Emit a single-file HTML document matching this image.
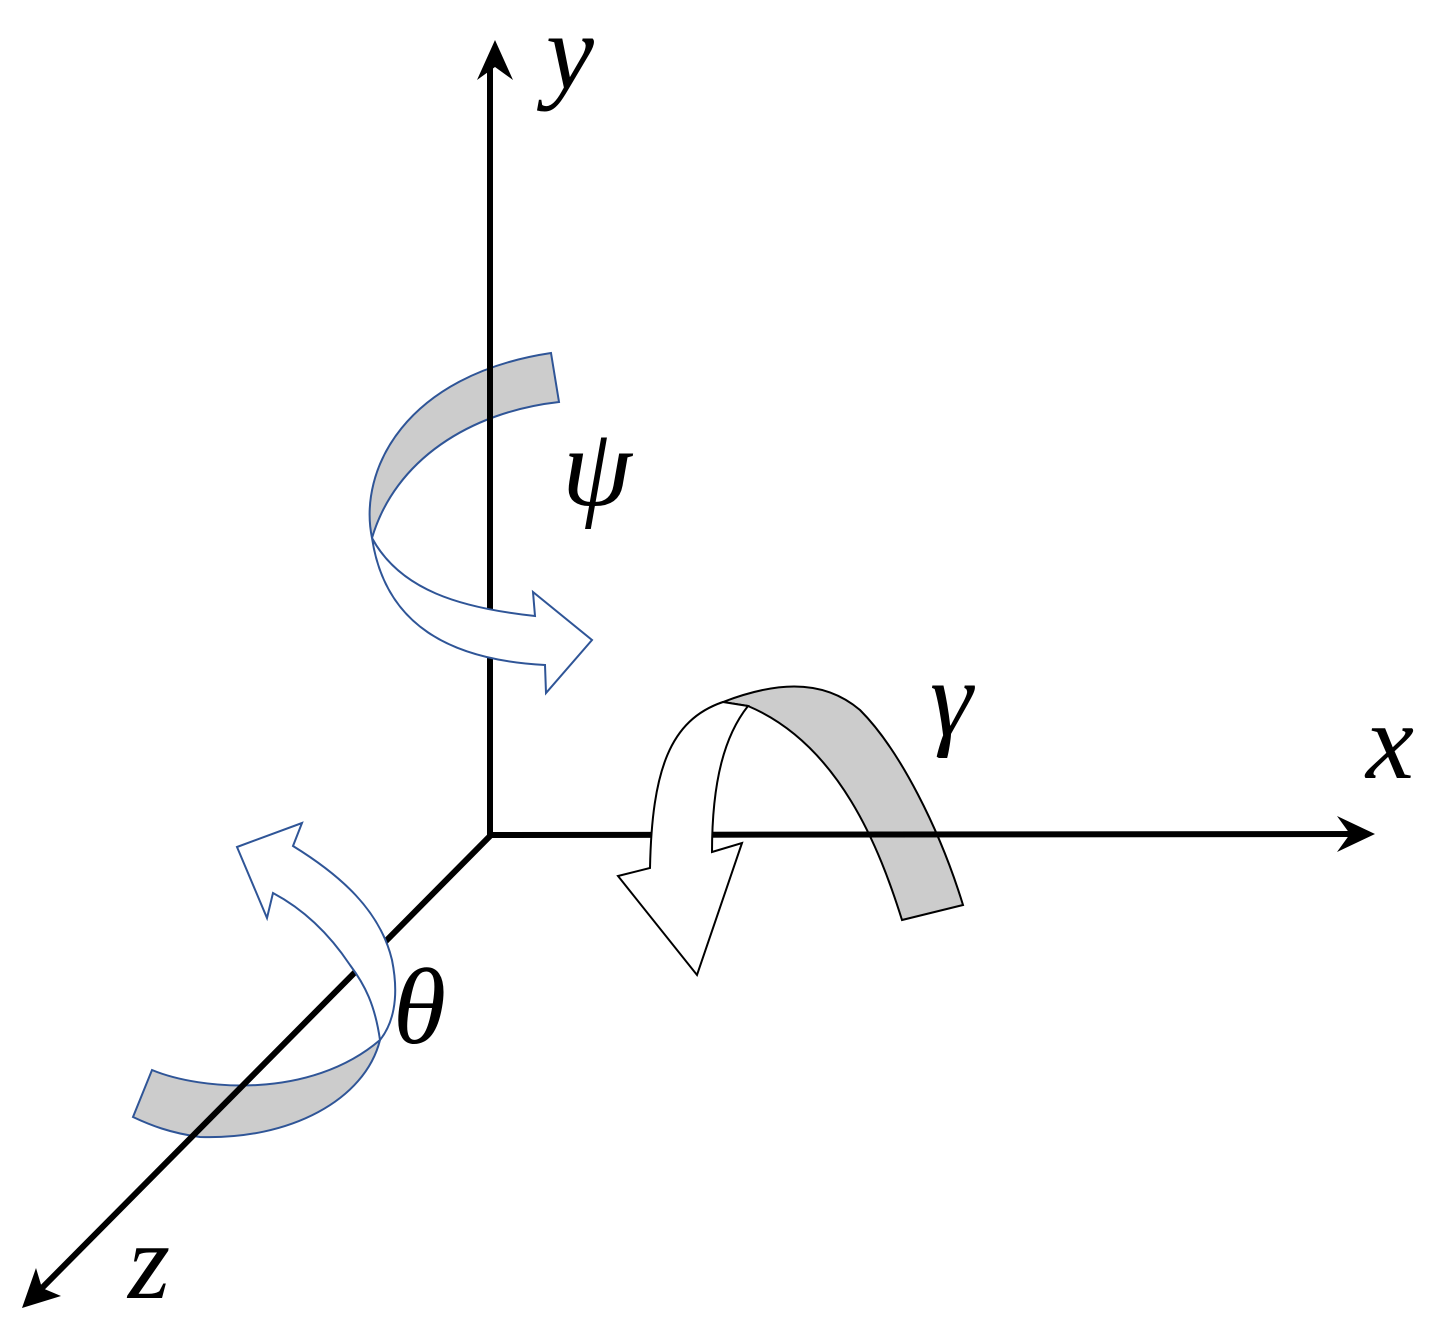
<!DOCTYPE html>
<html><head><meta charset="utf-8"><style>
html,body{margin:0;padding:0;background:#fff;}
svg{display:block;}
text{font-family:"Liberation Serif","DejaVu Serif",serif;font-style:italic;fill:#000;}
</style></head><body>
<svg width="1456" height="1335" viewBox="0 0 1456 1335" xmlns="http://www.w3.org/2000/svg">
<path d="M551,353 L559,402 C470,412 395,460 372,538 C358,470 405,375 551,353 Z" fill="#cccccc" stroke="#2f5597" stroke-width="2"/>
<path d="M723,702 C770,684 820,676 860,710 C900,750 940,830 963,905 L902,920 C880,850 840,745 748,706 Z" fill="#cccccc" stroke="#000" stroke-width="2"/>
<path d="M152,1070 C200,1090 310,1100 380,1040 C365,1100 290,1140 200,1137 C170,1133 150,1125 133,1117 Z" fill="#cccccc" stroke="#2f5597" stroke-width="2"/>
<g stroke="#000" stroke-width="6" fill="none">
<line x1="490" y1="838" x2="490" y2="62"/>
<line x1="487" y1="835" x2="1355" y2="834"/>
<line x1="492" y1="834" x2="40" y2="1290"/>
</g>
<polygon points="495,40 513,80 495,67 477,80" fill="#000"/>
<polygon points="1375,834 1337,816 1350,834 1337,852" fill="#000"/>
<polygon points="22,1308 36,1268 42,1288 61,1296" fill="#000"/>
<path d="M372,538 C400,590 460,608 535,616 L533,592 L592,640 L546,693 L545,665 C450,660 385,625 372,538 Z" fill="#fff" stroke="#2f5597" stroke-width="2"/>
<path d="M723,702 C670,720 652,770 650,868 L618,876 L697,975 L742,843 L712,852 C712,780 725,735 748,706 Z" fill="#fff" stroke="#000" stroke-width="2"/>
<path d="M237,847 L302,823 L293,846 C340,875 380,910 392,960 C400,1000 392,1025 380,1040 C375,1005 365,985 350,965 C330,935 305,910 273,893 L267,918 Z" fill="#fff" stroke="#2f5597" stroke-width="2"/>
<text x="546" y="88" font-size="108">y</text>
<text x="1366" y="778" font-size="108">x</text>
<text x="128" y="1298" font-size="108">z</text>
<text x="562" y="505" font-size="112">ψ</text>
<text x="930" y="735" font-size="108">γ</text>
<text x="393" y="1043" font-size="108">θ</text>
</svg>
</body></html>
